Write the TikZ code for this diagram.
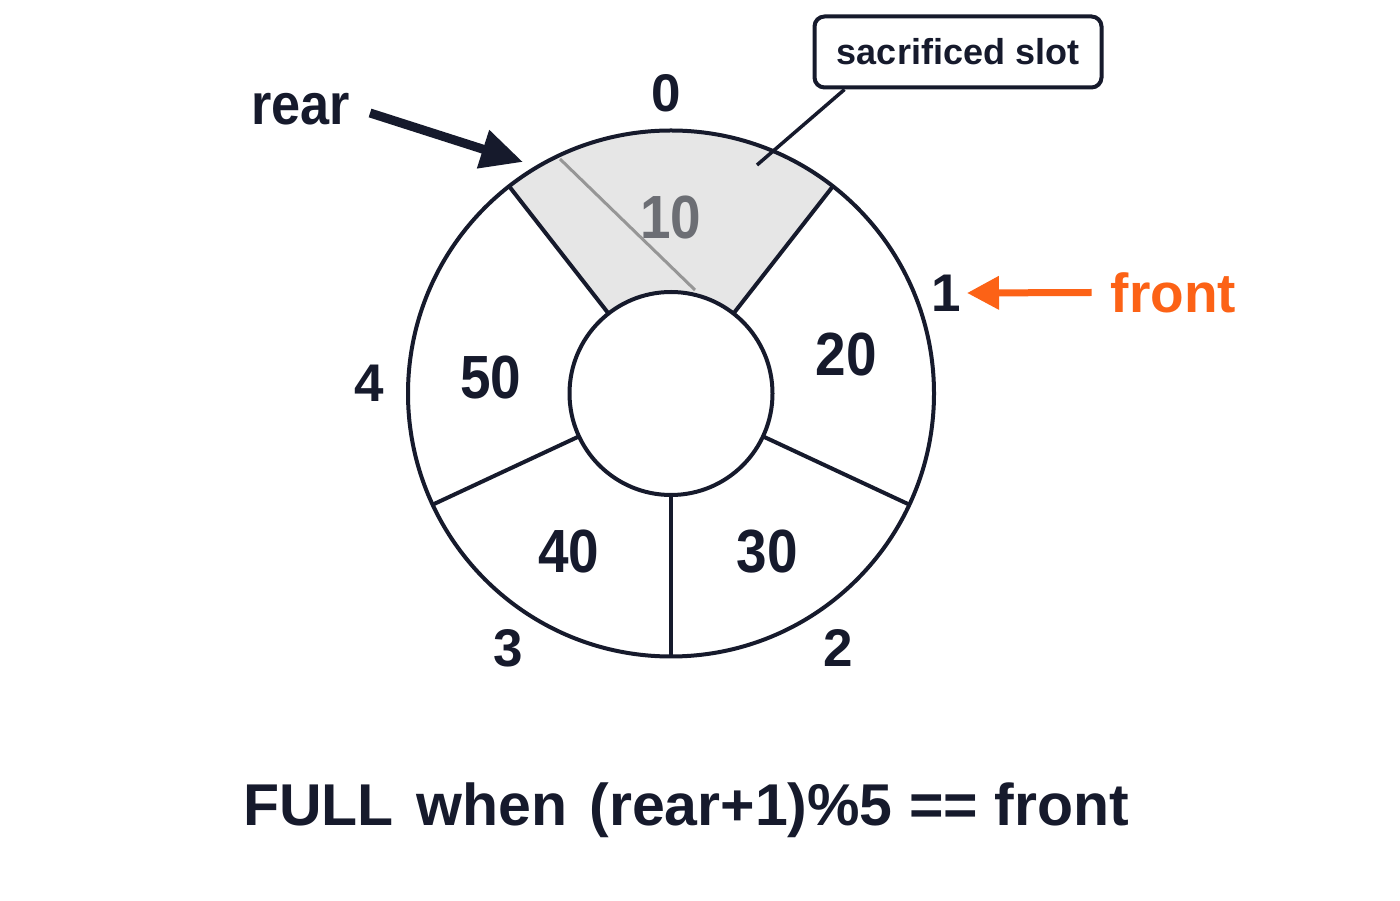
\documentclass[tikz,border=0pt]{standalone}
\usepackage{fontspec}
\setmainfont{Liberation Sans}
\newfontfamily\narrowsans{Liberation Sans}[FakeStretch=0.9]
\usetikzlibrary{arrows.meta}
\definecolor{ink}{RGB}{22,26,44}
\definecolor{slotfill}{RGB}{230,230,230}
\definecolor{slotline}{RGB}{150,150,150}
\definecolor{slottext}{RGB}{108,110,116}
\definecolor{orangeA}{RGB}{252,98,22}
\begin{document}
\begin{tikzpicture}[x=1pt,y=1pt,
  ringline/.style={draw=ink, line width=4pt},
  idx/.style={font=\fontsize{53}{53}\selectfont\bfseries, text=ink, inner sep=0pt},
  val/.style={font=\narrowsans\fontsize{61}{61}\selectfont\bfseries, text=ink, inner sep=0pt},
  lbl/.style={font=\fontsize{55}{55}\selectfont\bfseries, text=ink, inner sep=0pt}]
\useasboundingbox (0,0) rectangle (1400,900);
\fill[white] (0,0) rectangle (1400,900);
\coordinate (C) at (671,506.5);
% sacrificed slot fill
\fill[slotfill] ([shift={(52:263)}]C) arc[start angle=52,end angle=128,radius=263]
  -- ([shift={(128:101.5)}]C) arc[start angle=128,end angle=52,radius=101.5] -- cycle;
\coordinate (g1) at (560,741);
\coordinate (g2) at (695,610);
\draw[slotline, line width=3pt] (g1) -- (g2);
% ring
\draw[ringline] (C) circle[radius=263];
\draw[ringline] (C) circle[radius=101.5];
\foreach \a in {52,128,205,270,335}
  \draw[ringline] ([shift={(\a:101.5)}]C) -- ([shift={(\a:263)}]C);
% index labels
\node[idx] (i0) at (666,807) {0};
\node[idx] (i1) at (946,607) {1};
\node[idx] (i2) at (838,252) {2};
\node[idx] (i3) at (508,252) {3};
\node[idx] (i4) at (369,517) {4};
% values
\node[val, text=slottext] (v10) at (671,682) {10};
\node[val] (v20) at (846.5,545) {20};
\node[val] (v30) at (767,348) {30};
\node[val] (v40) at (569,348) {40};
\node[val] (v50) at (491,522) {50};
% rear
\node[lbl, font=\narrowsans\fontsize{58}{58}\selectfont\bfseries] (rear) at (300.5,791) {rear};
\coordinate (reartip) at (523,738);
\draw[ink, line width=9pt, -{Triangle[length=42pt,width=38pt]}]
  ([shift={(20pt,-4pt)}]rear.east) -- (reartip);
% front
\node[lbl, text=orangeA] (front) at (1173.5,607.5) {front};
\coordinate (fronttip) at (967,607);
\draw[orangeA, line width=7pt, -{Triangle[length=32pt,width=32pt]}]
  ([xshift=-19pt]front.west) -- (fronttip);
% sacrificed slot box
\node[draw=ink, line width=4pt, rounded corners=10pt, minimum width=287pt,
  minimum height=71pt, inner sep=0pt, font=\fontsize{36}{36}\selectfont\bfseries,
  text=ink] (slot) at (958,848) {sacrificed slot};
\coordinate (leadend) at (757,735);
\draw[ink, line width=3.5pt] ([xshift=32pt]slot.south west) -- (leadend);
% bottom formula
\node[font=\fontsize{59}{59}\selectfont\bfseries, text=ink, anchor=base, inner sep=0pt]
  (full) at (686,75) {FULL\hspace{6pt} when\hspace{6pt} (rear+1)\%5 == front};
\end{tikzpicture}
\end{document}
